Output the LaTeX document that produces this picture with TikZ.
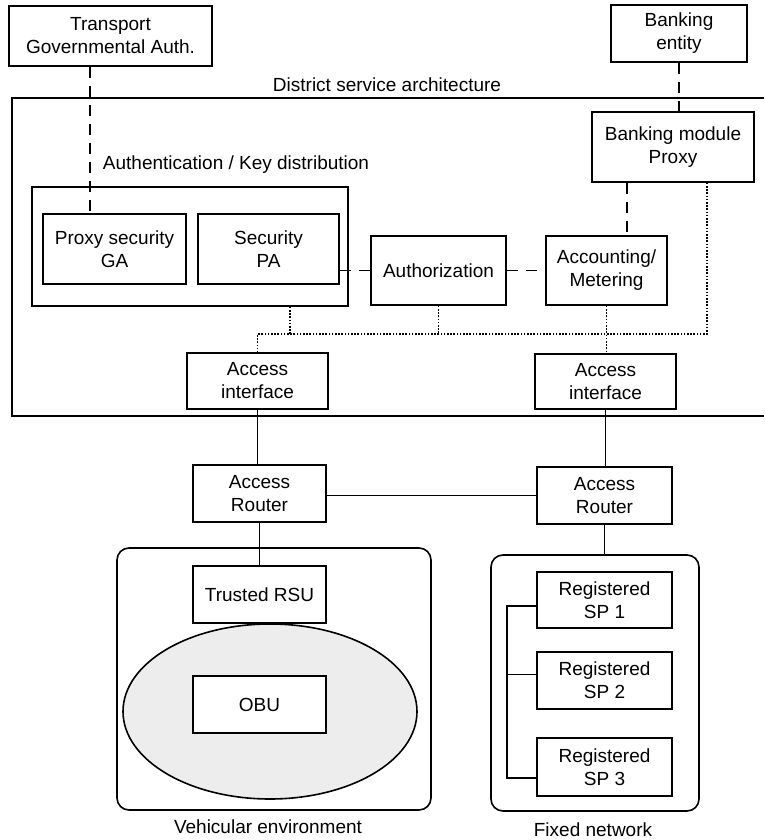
\documentclass[tikz,border=0pt]{standalone}
\usepackage{fontspec}
\setmainfont{Liberation Sans}
\usetikzlibrary{shapes.geometric}
\begin{document}
\begin{tikzpicture}[x=1pt,y=-1pt,
  every node/.style={font=\fontsize{19}{23}\selectfont},
  blk/.style={draw, line width=1.6pt, align=center, inner sep=0pt, fill=white},
  grp/.style={draw, line width=1.6pt, inner sep=0pt},
  envbox/.style={draw, line width=1.6pt, inner sep=0pt, rounded corners=12pt},
  lbl/.style={inner sep=0pt, align=center},
  solidline/.style={line width=1.3pt},
  dashline/.style={line width=1.3pt, dash pattern=on 11pt off 8pt},
  dotline/.style={line width=1.5pt, dash pattern=on 1.6pt off 1.6pt}]
\useasboundingbox (0,0) rectangle (764,840);

% outer district frame (right side runs off the page)
\draw[line width=1.6pt] (764,98) -- (12,98) -- (12,416) -- (764,416);
\node[lbl] (district) at (387,85) {District service architecture};

% top external entities
\node[blk, minimum width=203pt, minimum height=60pt] (ta) at (110.5,36) {Transport\\Governmental Auth.};
\node[blk, minimum width=136pt, minimum height=57pt] (be) at (679,33.5) {Banking\\entity};
\node[blk, minimum width=162pt, minimum height=70pt] (bm) at (673,147) {Banking module\\Proxy};

% authentication group
\node[lbl] (authlbl) at (236,165) {Authentication / Key distribution};
\node[grp, minimum width=316pt, minimum height=119pt] (authgrp) at (190,246.5) {};
\node[blk, minimum width=143pt, minimum height=70pt] (psga) at (114.5,249) {Proxy security\\GA};
\node[blk, minimum width=141pt, minimum height=70pt] (spa) at (268.5,249) {Security\\PA};

\node[blk, minimum width=135pt, minimum height=69pt] (authz) at (438.5,270.5) {Authorization};
\node[blk, minimum width=121pt, minimum height=69pt] (acct) at (606.5,270.5) {Accounting/\\Metering};

\node[blk, minimum width=141pt, minimum height=56pt] (ai1) at (257.5,381) {Access\\interface};
\node[blk, minimum width=141pt, minimum height=55pt] (ai2) at (605.5,381.5) {Access\\interface};

\node[blk, minimum width=133pt, minimum height=57pt] (ar1) at (259.5,493.5) {Access\\Router};
\node[blk, minimum width=135pt, minimum height=57pt] (ar2) at (604.5,495.5) {Access\\Router};

% vehicular environment
\node[envbox, minimum width=314pt, minimum height=262pt] (veh) at (274,679) {};
\node[ellipse, draw, line width=1.6pt, fill=gray!14, minimum width=294pt, minimum height=175pt, inner sep=0pt] (cloud) at (270,711.5) {};
\node[blk, minimum width=133pt, minimum height=57pt] (rsu) at (259.5,594.5) {Trusted RSU};
\node[blk, minimum width=133pt, minimum height=57pt] (obu) at (259.5,704.5) {OBU};
\node[lbl] (vehlbl) at (268,827) {Vehicular environment};

% fixed network
\node[envbox, minimum width=208pt, minimum height=256pt] (fixed) at (595,683) {};
\node[blk, minimum width=135pt, minimum height=56pt] (sp1) at (604.5,600) {Registered\\SP 1};
\node[blk, minimum width=135pt, minimum height=57pt] (sp2) at (604.5,680.5) {Registered\\SP 2};
\node[blk, minimum width=135pt, minimum height=58pt] (sp3) at (604.5,767) {Registered\\SP 3};
\node[lbl] (fixlbl) at (593,830) {Fixed network};

% helper coordinates
\coordinate (tadrop) at (90,0);
\coordinate (bmacct) at (627,0);
\coordinate (bmdot) at (707,0);
\coordinate (grpdot) at (290,0);
\coordinate (bus) at (0,334);
\coordinate (brk) at (507,0);

% dashed connectors
\draw[dashline] (ta.south -| tadrop) -- (psga.north -| tadrop);
\draw[dashline] (be.south) -- (bm.north -| be.south);
\draw[dashline] (spa.east |- authz.west) -- (authz.west);
\draw[dashline] (authz.east) -- (acct.west);
\draw[dashline] (bm.south -| bmacct) -- (acct.north -| bmacct);

% dotted connectors
\draw[dotline] (bm.south -| bmdot) |- (ai1.north |- bus) -- (ai1.north);
\draw[dotline] (authgrp.south -| grpdot) -- (bus -| grpdot);
\draw[dotline] (authz.south) -- (authz.south |- bus);
\draw[dotline] (acct.south) -- (acct.south |- ai2.north);

% solid connectors
\draw[solidline] (ai1.south) -- (ai1.south |- ar1.north);
\draw[solidline] (ai2.south) -- (ai2.south |- ar2.north);
\draw[solidline] (ar2.west -| ar1.east) -- (ar2.west);
\draw[solidline] (ar1.south) -- (ar1.south |- rsu.north);
\draw[solidline] (ar2.south) -- (ar2.south |- fixed.north);
\draw[solidline] ([yshift=-6pt]sp1.west) -| ([yshift=-11pt]sp3.west -| brk) -- ([yshift=-11pt]sp3.west);
\draw[solidline] ([yshift=6pt]sp2.west) -- ([yshift=6pt]sp2.west -| brk);
\end{tikzpicture}
\end{document}
